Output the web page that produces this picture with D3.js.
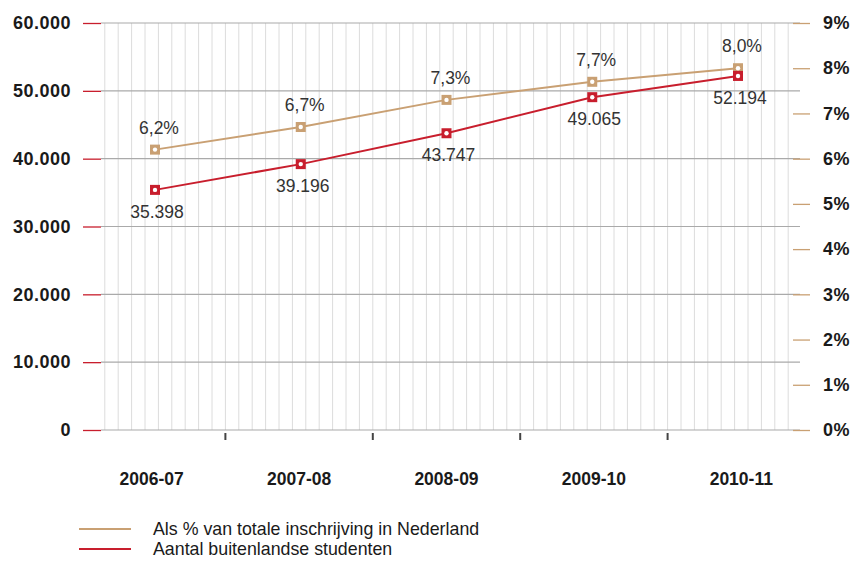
<!DOCTYPE html>
<html>
<head>
<meta charset="utf-8">
<script src="https://cdn.jsdelivr.net/npm/d3@7"></script>
<style>
  body { margin: 0; background: #fff; }
  text { font-family: "Liberation Sans", Arial, sans-serif; }
</style>
</head>
<body>
<div class="canvas"></div>
<script>
// data
const years = ["2006-07", "2007-08", "2008-09", "2009-10", "2010-11"];
const students = [35398, 39196, 43747, 49065, 52194];
const share = [6.2, 6.7, 7.3, 7.7, 8.0];
const leftTicks = [0, 10000, 20000, 30000, 40000, 50000, 60000];
const rightTicks = [0, 1, 2, 3, 4, 5, 6, 7, 8, 9];
const legendLabels = ["Als % van totale inschrijving in Nederland", "Aantal buitenlandse studenten"];

const dims = { width: 855, height: 564 };
const plot = { left: 101, right: 793, top: 23, bottom: 430 };
const colors = { tan: "#c9a073", red: "#c81e2d", text: "#1a1a1a", label: "#333" };

const nl = d3.formatLocale({ decimal: ",", thousands: ".", grouping: [3], currency: ["€", ""] });
const fmtInt = nl.format(",d");
const fmtPct = (d) => nl.format(".1f")(d) + "%";

const svg = d3
  .select(".canvas")
  .append("svg")
  .attr("width", dims.width)
  .attr("height", dims.height);

// scales
const yLeft = d3.scaleLinear().domain([0, 60000]).range([plot.bottom, plot.top]);
const yRight = d3.scaleLinear().domain([0, 9]).range([plot.bottom, plot.top]);
const xBand = d3.scaleBand().domain(years).range([78, 815]);
const xPoint = d3.scalePoint().domain(years).range([155, 738]);

// vertical minor grid (11 divisions per year band)
const step = xBand.step() / 11;
const minor = d3.range(2, 54).map((i) => xBand.range()[0] + i * step);

svg
  .append("g")
  .selectAll("line")
  .data(minor)
  .enter()
  .append("line")
  .attr("x1", (d) => d)
  .attr("x2", (d) => d)
  .attr("y1", plot.top)
  .attr("y2", plot.bottom)
  .attr("stroke", "#dcdcdc")
  .attr("stroke-width", 1);

// horizontal grid
svg
  .append("g")
  .selectAll("line")
  .data(leftTicks)
  .enter()
  .append("line")
  .attr("x1", plot.left)
  .attr("x2", plot.right + 7)
  .attr("y1", (d) => yLeft(d))
  .attr("y2", (d) => yLeft(d))
  .attr("stroke", "#aaa")
  .attr("stroke-width", 1.2);

// left axis
const leftAxis = svg
  .append("g")
  .attr("transform", `translate(${plot.left}, 0)`)
  .call(d3.axisLeft(yLeft).tickValues(leftTicks).tickSize(18).tickPadding(12).tickFormat(fmtInt));
leftAxis.select(".domain").remove();
leftAxis.selectAll("line").attr("stroke", colors.red).attr("stroke-width", 1.3);
leftAxis
  .selectAll("text")
  .attr("fill", colors.text)
  .attr("font-size", 18)
  .attr("letter-spacing", 0.5)
  .attr("font-weight", "bold");

// right axis
const rightAxis = svg
  .append("g")
  .attr("transform", `translate(${plot.right}, 0)`)
  .call(d3.axisRight(yRight).tickValues(rightTicks).tickSize(17).tickPadding(13).tickFormat((d) => d + "%"));
rightAxis.select(".domain").remove();
rightAxis.selectAll("line").attr("stroke", colors.tan).attr("stroke-width", 1.3);
rightAxis
  .selectAll("text")
  .attr("fill", colors.text)
  .attr("font-size", 18)
  .attr("letter-spacing", 0.5)
  .attr("font-weight", "bold");

// year separators below plot
svg
  .append("g")
  .selectAll("line")
  .data(years.slice(1))
  .enter()
  .append("line")
  .attr("x1", (d) => xBand(d))
  .attr("x2", (d) => xBand(d))
  .attr("y1", plot.bottom + 3)
  .attr("y2", plot.bottom + 10)
  .attr("stroke", "#444")
  .attr("stroke-width", 2);

// year labels
svg
  .append("g")
  .selectAll("text")
  .data(years)
  .enter()
  .append("text")
  .attr("x", (d) => xBand(d) + xBand.bandwidth() / 2)
  .attr("y", 485)
  .attr("text-anchor", "middle")
  .attr("font-size", 17.5)
  .attr("font-weight", "bold")
  .attr("fill", colors.text)
  .text((d) => d);

// series
const series = [
  { name: "share", values: share, y: yRight, color: colors.tan, fmt: fmtPct, dx: 4, dy: -16 },
  { name: "students", values: students, y: yLeft, color: colors.red, fmt: fmtInt, dx: 2, dy: 28 },
];

series.forEach((s) => {
  const pts = years.map((yr, i) => ({ x: xPoint(yr), y: s.y(s.values[i]), v: s.values[i] }));
  const line = d3
    .line()
    .x((d) => d.x)
    .y((d) => d.y);

  const g = svg.append("g").attr("class", s.name);

  g.append("path")
    .attr("d", line(pts))
    .attr("fill", "none")
    .attr("stroke", s.color)
    .attr("stroke-width", 2);

  g.selectAll("rect")
    .data(pts)
    .enter()
    .append("rect")
    .attr("x", (d) => d.x - 5)
    .attr("y", (d) => d.y - 5)
    .attr("width", 10)
    .attr("height", 10)
    .attr("fill", s.color);

  g.selectAll("circle")
    .data(pts)
    .enter()
    .append("circle")
    .attr("cx", (d) => d.x)
    .attr("cy", (d) => d.y)
    .attr("r", 2.2)
    .attr("fill", "#fff");

  g.selectAll("text")
    .data(pts)
    .enter()
    .append("text")
    .attr("x", (d) => d.x + s.dx)
    .attr("y", (d) => d.y + s.dy)
    .attr("text-anchor", "middle")
    .attr("font-size", 17.5)
    .attr("fill", colors.label)
    .text((d) => s.fmt(d.v));
});

// legend
const legend = svg.append("g").attr("transform", "translate(79, 529)");
[colors.tan, colors.red].forEach((c, i) => {
  const row = legend.append("g").attr("transform", `translate(0, ${i * 20})`);
  row.append("line").attr("x1", 0).attr("x2", 52).attr("stroke", c).attr("stroke-width", 2);
  row
    .append("text")
    .attr("x", 74)
    .attr("y", 6)
    .attr("font-size", 17.8)
    .attr("fill", colors.text)
    .text(legendLabels[i]);
});
</script>
</body>
</html>
